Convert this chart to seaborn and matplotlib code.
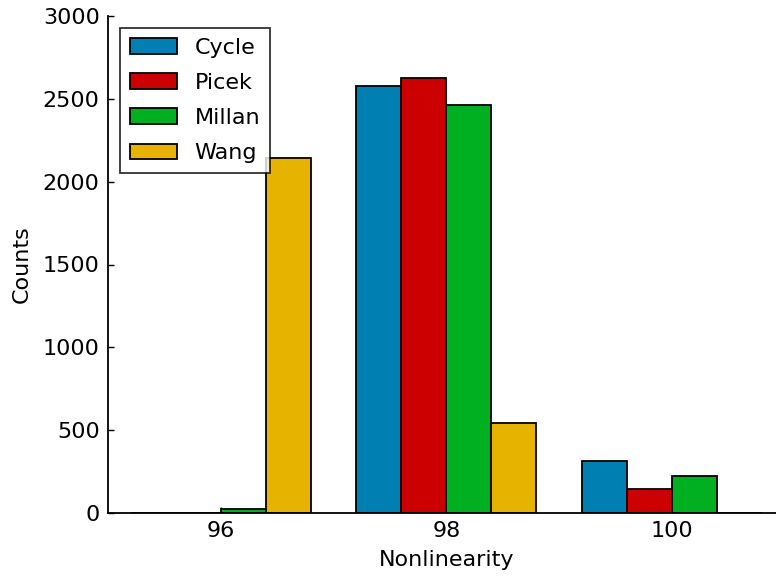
import matplotlib
matplotlib.use("Agg")
import matplotlib.pyplot as plt
import seaborn as sns
import pandas as pd

# Counts of S-boxes per nonlinearity value for each construction method
nonlinearity = ["96", "98", "100"]
methods = ["Cycle", "Picek", "Millan", "Wang"]
cycle_counts = [0, 2580, 315]
picek_counts = [0, 2625, 145]
millan_counts = [27, 2462, 222]
wang_counts = [2142, 543, 0]
colors = ["#0080B2", "#CC0000", "#00B020", "#E6B400"]

rows = []
for method, counts in zip(methods, [cycle_counts, picek_counts, millan_counts, wang_counts]):
    for nl, c in zip(nonlinearity, counts):
        rows.append({"Nonlinearity": nl, "Counts": c, "Method": method})
df = pd.DataFrame(rows)

sns.set_style("white")
plt.rcParams["font.family"] = ["DejaVu Sans"]
plt.rcParams["text.color"] = "black"
plt.rcParams["axes.labelcolor"] = "black"
plt.rcParams["xtick.color"] = "black"
plt.rcParams["ytick.color"] = "black"
fs = 16

fig = plt.figure(figsize=(7.76, 5.76), dpi=100)
ax = fig.add_axes([108 / 776, 63 / 576, 676.5 / 776, 497 / 576])

sns.barplot(data=df, x="Nonlinearity", y="Counts", hue="Method",
            order=nonlinearity, hue_order=methods, palette=colors,
            width=0.8, edgecolor="black", linewidth=1.3, saturation=1,
            ax=ax, errorbar=None)

ax.set_xlim(-0.5, 2.5)
ax.set_ylim(0, 3000)
ax.set_yticks([0, 500, 1000, 1500, 2000, 2500, 3000])
ax.set_xlabel("Nonlinearity", fontsize=fs, labelpad=6, color="black")
ax.set_ylabel("Counts", fontsize=fs, labelpad=8, color="black")
for side in ["top", "right"]:
    ax.spines[side].set_visible(False)
for side in ["left", "bottom"]:
    ax.spines[side].set_color("black")
    ax.spines[side].set_linewidth(1.3)
ax.tick_params(axis="both", direction="in", length=4, width=1, colors="black",
               labelcolor="black", labelsize=fs, left=True, bottom=True, pad=6)

leg = ax.legend(loc="upper left", bbox_to_anchor=(0.0177, 0.976), fontsize=fs,
                frameon=True, fancybox=False, edgecolor="black",
                borderaxespad=0.0, handlelength=2.1, handleheight=0.73,
                labelspacing=0.68, borderpad=0.45, handletextpad=0.8)
leg.get_frame().set_linewidth(1.3)
for t in leg.get_texts():
    t.set_color("black")

fig.savefig("out.png", dpi=100)
